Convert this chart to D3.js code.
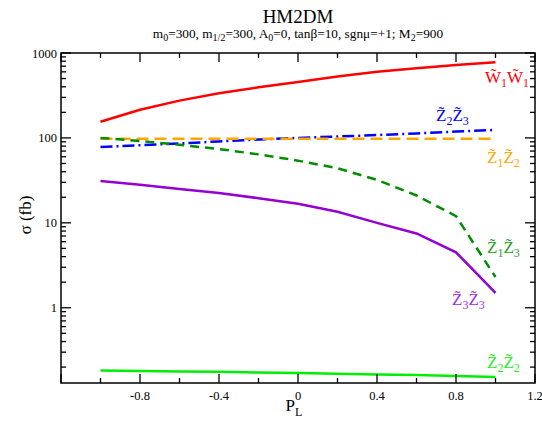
<!DOCTYPE html>
<html><head><meta charset="utf-8">
<script src="https://cdn.jsdelivr.net/npm/d3@7"></script>
<style>body{margin:0;background:#fff}text{font-family:"Liberation Serif","DejaVu Serif",serif}</style>
</head><body>
<svg id="c" width="542" height="422"></svg>
<script>
const PL = [-1, -0.8, -0.6, -0.4, -0.2, 0, 0.2, 0.4, 0.6, 0.8, 1];
const W1W1 = [155, 215, 275, 335, 395, 455, 530, 600, 660, 720, 780];
const Z2Z3 = [78, 82, 86, 91, 96, 100, 104, 108, 113, 119, 124];
const Z1Z2 = [98, 98, 98, 98, 98, 98, 98, 98, 98, 98, 98];
const Z1Z3 = [100, 92, 83, 74, 64, 54, 44, 32, 21, 12, 2.3];
const Z3Z3 = [31, 28, 25, 22.5, 19.5, 16.8, 13.5, 10, 7.5, 4.5, 1.5];
const Z2Z2 = [0.183, 0.180, 0.178, 0.176, 0.173, 0.170, 0.167, 0.164, 0.161, 0.157, 0.153];
const xTicks = [-0.8, -0.4, 0, 0.4, 0.8, 1.2];
const yTicks = [1, 10, 100, 1000];

const svg = d3.select("#c");
const FF = "Liberation Serif, DejaVu Serif, serif";
const L = 61, R = 535, T = 53, B = 383;
const x = d3.scaleLinear().domain([-1.2, 1.2]).range([L, R]);
const y = d3.scaleLog().domain([0.13, 1000]).range([B, T]);

const series = [
  {v: W1W1, c: "#ff0000", d: null, lab: ["W", "1", "W", "1"], lx: 485, ly: 83},
  {v: Z2Z3, c: "#0000ff", d: "12,4,2,4", lab: ["Z", "2", "Z", "3"], lx: 436, ly: 121},
  {v: Z1Z2, c: "#ffa500", d: "12,6", lab: ["Z", "1", "Z", "2"], lx: 487, ly: 163},
  {v: Z1Z3, c: "#008c00", d: "9,6", lab: ["Z", "1", "Z", "3"], lx: 487, ly: 253, tc: "#1fa01f"},
  {v: Z3Z3, c: "#9400d3", d: null, lab: ["Z", "3", "Z", "3"], lx: 452, ly: 305, tc: "#a030e0"},
  {v: Z2Z2, c: "#00ee00", d: null, lab: ["Z", "2", "Z", "2"], lx: 487, ly: 368, tc: "#22ee22"}
];

const line = d3.line().x((d, i) => x(PL[i])).y(d => y(d));
series.forEach(s => {
  svg.append("path").datum(s.v).attr("d", line).attr("fill", "none")
    .attr("stroke", s.c).attr("stroke-width", 2.5)
    .attr("stroke-dasharray", s.d);
});

// labels
series.forEach(s => {
  const t = svg.append("text").attr("x", s.lx).attr("y", s.ly).attr("font-family", FF)
    .attr("font-size", 17).attr("fill", s.tc || s.c);
  t.append("tspan").text(s.lab[0] + "\u0303");
  t.append("tspan").attr("font-size", 12).attr("dy", 4).text(s.lab[1]);
  t.append("tspan").attr("dy", -4).text(s.lab[2] + "\u0303");
  t.append("tspan").attr("font-size", 12).attr("dy", 4).text(s.lab[3]);
});

// frame
svg.append("rect").attr("x", L).attr("y", T).attr("width", R - L).attr("height", B - T)
  .attr("fill", "none").attr("stroke", "#000").attr("stroke-width", 1.5);

// x ticks
const xMinor = d3.range(-1.2, 1.2001, 0.2);
xMinor.forEach(v => {
  const major = Math.abs(Math.round(v * 10)) % 4 === 0;
  const len = major ? 9 : 5;
  svg.append("line").attr("x1", x(v)).attr("x2", x(v)).attr("y1", B).attr("y2", B - len).attr("stroke", "#000").attr("stroke-width", 1.3);
  svg.append("line").attr("x1", x(v)).attr("x2", x(v)).attr("y1", T).attr("y2", T + len).attr("stroke", "#000").attr("stroke-width", 1.3);
});
xTicks.forEach(v => {
  svg.append("text").attr("x", x(v)).attr("y", B + 17).attr("text-anchor", "middle").attr("font-family", FF)
    .attr("font-size", 12.5).text(String(+v.toFixed(1)));
});

// y ticks
const yMin = [];
[0.1, 1, 10, 100].forEach(b => { for (let k = 1; k < 10; k++) yMin.push(b * k); });
yMin.push(1000);
yMin.filter(v => v >= 0.13 && v <= 1000).forEach(v => {
  const major = yTicks.includes(+v.toPrecision(3));
  const len = major ? 10 : 5;
  svg.append("line").attr("x1", L).attr("x2", L + len).attr("y1", y(v)).attr("y2", y(v)).attr("stroke", "#000").attr("stroke-width", 1.3);
  svg.append("line").attr("x1", R).attr("x2", R - len).attr("y1", y(v)).attr("y2", y(v)).attr("stroke", "#000").attr("stroke-width", 1.3);
});
yTicks.forEach(v => {
  svg.append("text").attr("x", L - 4).attr("y", y(v) + 4.5).attr("text-anchor", "end").attr("font-family", FF)
    .attr("font-size", 12.5).text(v);
});

// titles
svg.append("text").attr("x", 298).attr("y", 23).attr("text-anchor", "middle").attr("font-family", FF).attr("font-size", 19).text("HM2DM");
const st = svg.append("text").attr("x", 298).attr("y", 38).attr("text-anchor", "middle").attr("font-family", FF).attr("font-size", 13.3);
[["m",""],["0","s"],["=300, m",""],["1/2","s"],["=300, A",""],["0","s"],["=0, tanβ=10, sgnμ=+1; M",""],["2","s"],["=900",""]]
  .reduce((prev, p) => {
    const sub = p[1] === "s";
    const dy = sub && !prev ? 3 : (!sub && prev ? -3 : 0);
    st.append("tspan").attr("font-size", sub ? 10 : 13.3).attr("dy", dy).text(p[0]);
    return sub;
  }, false);

// axis labels
svg.append("text").attr("transform", "translate(31,215) rotate(-90)").attr("text-anchor", "middle").attr("font-family", FF)
  .attr("font-size", 17).text("σ (fb)");
const xl = svg.append("text").attr("x", 294).attr("y", 411).attr("text-anchor", "middle").attr("font-family", FF).attr("font-size", 17);
xl.append("tspan").text("P");
xl.append("tspan").attr("font-size", 12).attr("dy", 5).text("L");
</script>
</body></html>
